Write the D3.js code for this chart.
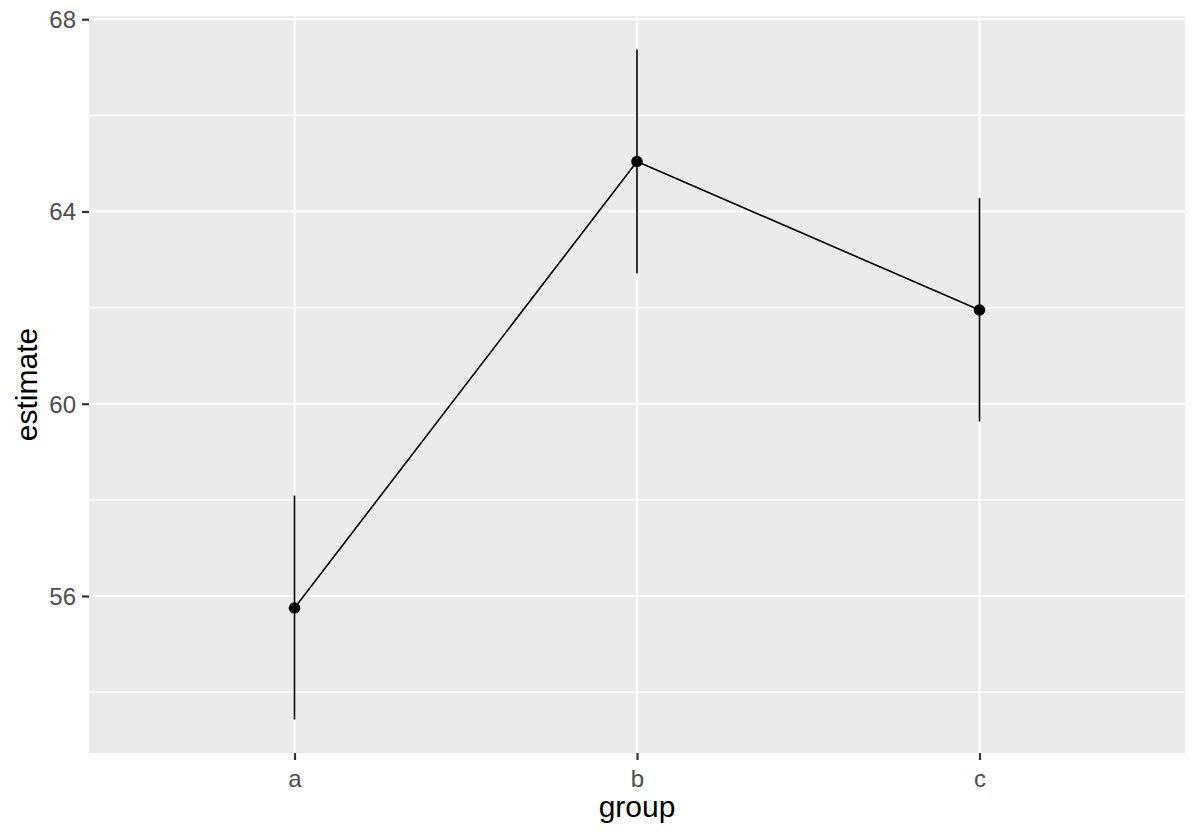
<!DOCTYPE html>
<html><head><meta charset="utf-8">
<script src="https://cdn.jsdelivr.net/npm/d3@7"></script>
<style>body{margin:0;background:#fff}svg{display:block;font-family:"Liberation Sans",Arial,sans-serif}</style>
</head><body>
<script>
const groups = ["a", "b", "c"];
const estimates = [55.75, 65.04, 61.95];
const lower = [53.43, 62.71, 59.63];
const upper = [58.09, 67.37, 64.28];
const yTicks = [56, 60, 64, 68];
const yMinor = [54, 58, 62, 66];

const W = 1200, H = 840;
const panel = {left: 89, right: 1185, top: 16, bottom: 753};
const svg = d3.select("body").append("svg").attr("width", W).attr("height", H);

const dmin = d3.min(lower), dmax = d3.max(upper), pad = (dmax - dmin) * 0.05;
const y = d3.scaleLinear().domain([dmin - pad, dmax + pad]).range([panel.bottom, panel.top]);
const x = d3.scalePoint().domain(groups).range([panel.left, panel.right]).padding(0.6);

svg.append("rect").attr("x", panel.left).attr("y", panel.top)
  .attr("width", panel.right - panel.left).attr("height", panel.bottom - panel.top).attr("fill", "#ebebeb");

const g = svg.append("g");
g.selectAll(".minor").data(yMinor).join("line")
  .attr("x1", panel.left).attr("x2", panel.right).attr("y1", d => y(d)).attr("y2", d => y(d))
  .attr("stroke", "#fff").attr("stroke-width", 1.1);
g.selectAll(".major").data(yTicks).join("line")
  .attr("x1", panel.left).attr("x2", panel.right).attr("y1", d => y(d)).attr("y2", d => y(d))
  .attr("stroke", "#fff").attr("stroke-width", 2.2);
g.selectAll(".xmajor").data(groups).join("line")
  .attr("x1", d => x(d)).attr("x2", d => x(d)).attr("y1", panel.top).attr("y2", panel.bottom)
  .attr("stroke", "#fff").attr("stroke-width", 2.2);

// axes
const yAxis = d3.axisLeft(y).tickValues(yTicks).tickSize(7).tickPadding(6);
const ya = svg.append("g").attr("transform", `translate(${panel.left},0)`).call(yAxis)
  .attr("font-size", null).attr("font-family", null);
ya.select(".domain").remove();
ya.selectAll("line").attr("stroke", "#333").attr("stroke-width", 2.2);
ya.selectAll("text").attr("fill", "#4d4d4d").style("font-size", "24px").attr("dy", "0.35em");

const xAxis = d3.axisBottom(x).tickSize(7).tickPadding(6);
const xa = svg.append("g").attr("transform", `translate(0,${panel.bottom})`).call(xAxis)
  .attr("font-size", null).attr("font-family", null);
xa.select(".domain").remove();
xa.selectAll("line").attr("stroke", "#333").attr("stroke-width", 2.2);
xa.selectAll("text").attr("fill", "#4d4d4d").style("font-size", "24px").attr("y", 34).attr("dy", 0);

const data = groups.map((d, i) => ({g: d, est: estimates[i], lo: lower[i], hi: upper[i]}));

svg.selectAll(".err").data(data).join("line")
  .attr("x1", d => x(d.g)).attr("x2", d => x(d.g)).attr("y1", d => y(d.lo)).attr("y2", d => y(d.hi))
  .attr("stroke", "#000").attr("stroke-width", 1.6);

svg.append("path").datum(data)
  .attr("d", d3.line().x(d => x(d.g)).y(d => y(d.est)))
  .attr("fill", "none").attr("stroke", "#000").attr("stroke-width", 1.6);

svg.selectAll(".pt").data(data).join("circle")
  .attr("cx", d => x(d.g)).attr("cy", d => y(d.est)).attr("r", 5.8).attr("fill", "#000");

svg.append("text").attr("x", (panel.left + panel.right) / 2).attr("y", 817)
  .attr("text-anchor", "middle").style("font-size", "30px").attr("fill", "#000").text("group");
svg.append("text").attr("transform", `translate(37,${(panel.top + panel.bottom) / 2}) rotate(-90)`)
  .attr("text-anchor", "middle").style("font-size", "30px").attr("fill", "#000").text("estimate");
</script>
</body></html>
